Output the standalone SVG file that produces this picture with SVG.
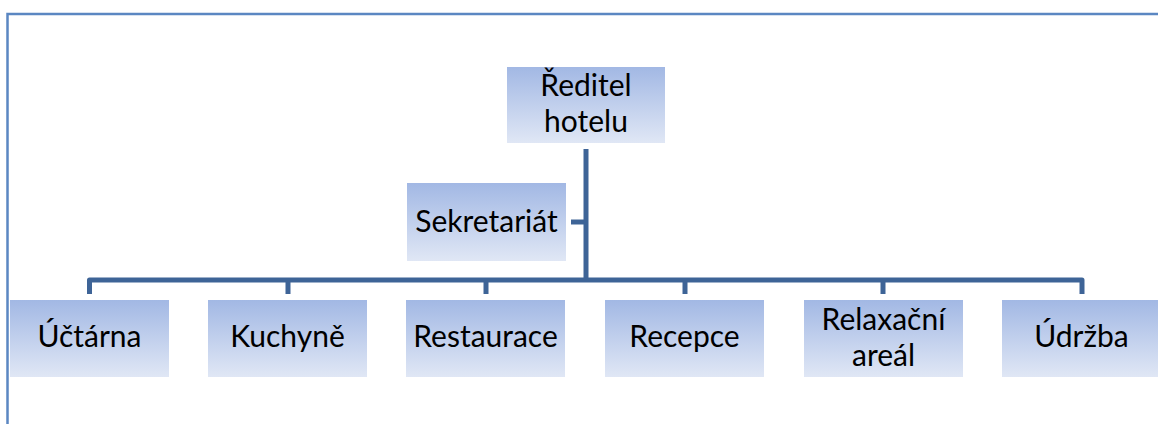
<svg xmlns="http://www.w3.org/2000/svg" width="1158" height="424" viewBox="0 0 1158 424">
<defs>
<linearGradient id="g" x1="0" y1="0" x2="0" y2="1">
<stop offset="0" stop-color="#a2b8e4"/>
<stop offset="1" stop-color="#e0e7f5"/>
</linearGradient>
</defs>
<style>
.box{fill:url(#g);}
.t{font-family:Lato,"Open Sans","Liberation Sans",sans-serif;font-size:30px;fill:#000;text-anchor:middle;}
.c{fill:none;stroke:#3e6497;stroke-width:5;stroke-linejoin:round;}
</style>
<rect x="7.5" y="14" width="1200" height="500" fill="#fff" stroke="#5b87c2" stroke-width="2.5"/>
<g id="connectors">
<path class="c" d="M586 149 V280"/>
<path class="c" d="M571 222 H586"/>
<path class="c" d="M89.5 294 V280 H1082 V294"/>
<path class="c" d="M288 280 V294 M486 280 V294 M685 280 V294 M883 280 V294"/>
</g>
<g id="reditel">
<rect class="box" x="507" y="67" width="158" height="76"/>
<text class="t" x="586" y="96">Ředitel</text>
<text class="t" x="586" y="132">hotelu</text>
</g>
<g id="sekretariat">
<rect class="box" x="407" y="183" width="159" height="78"/>
<text class="t" x="486.5" y="232">Sekretariát</text>
</g>
<g id="uctarna">
<rect class="box" x="10" y="300" width="159" height="77"/>
<text class="t" x="89.5" y="347">Účtárna</text>
</g>
<g id="kuchyne">
<rect class="box" x="208" y="300" width="159" height="77"/>
<text class="t" x="287.5" y="347">Kuchyně</text>
</g>
<g id="restaurace">
<rect class="box" x="406" y="300" width="159" height="77"/>
<text class="t" x="485.5" y="347">Restaurace</text>
</g>
<g id="recepce">
<rect class="box" x="605" y="300" width="159" height="77"/>
<text class="t" x="684.5" y="347">Recepce</text>
</g>
<g id="relaxacni">
<rect class="box" x="804" y="300" width="159" height="77"/>
<text class="t" x="883.5" y="330">Relaxační</text>
<text class="t" x="883.5" y="366">areál</text>
</g>
<g id="udrzba">
<rect class="box" x="1002" y="300" width="159" height="77"/>
<text class="t" x="1081.5" y="347">Údržba</text>
</g>
</svg>
